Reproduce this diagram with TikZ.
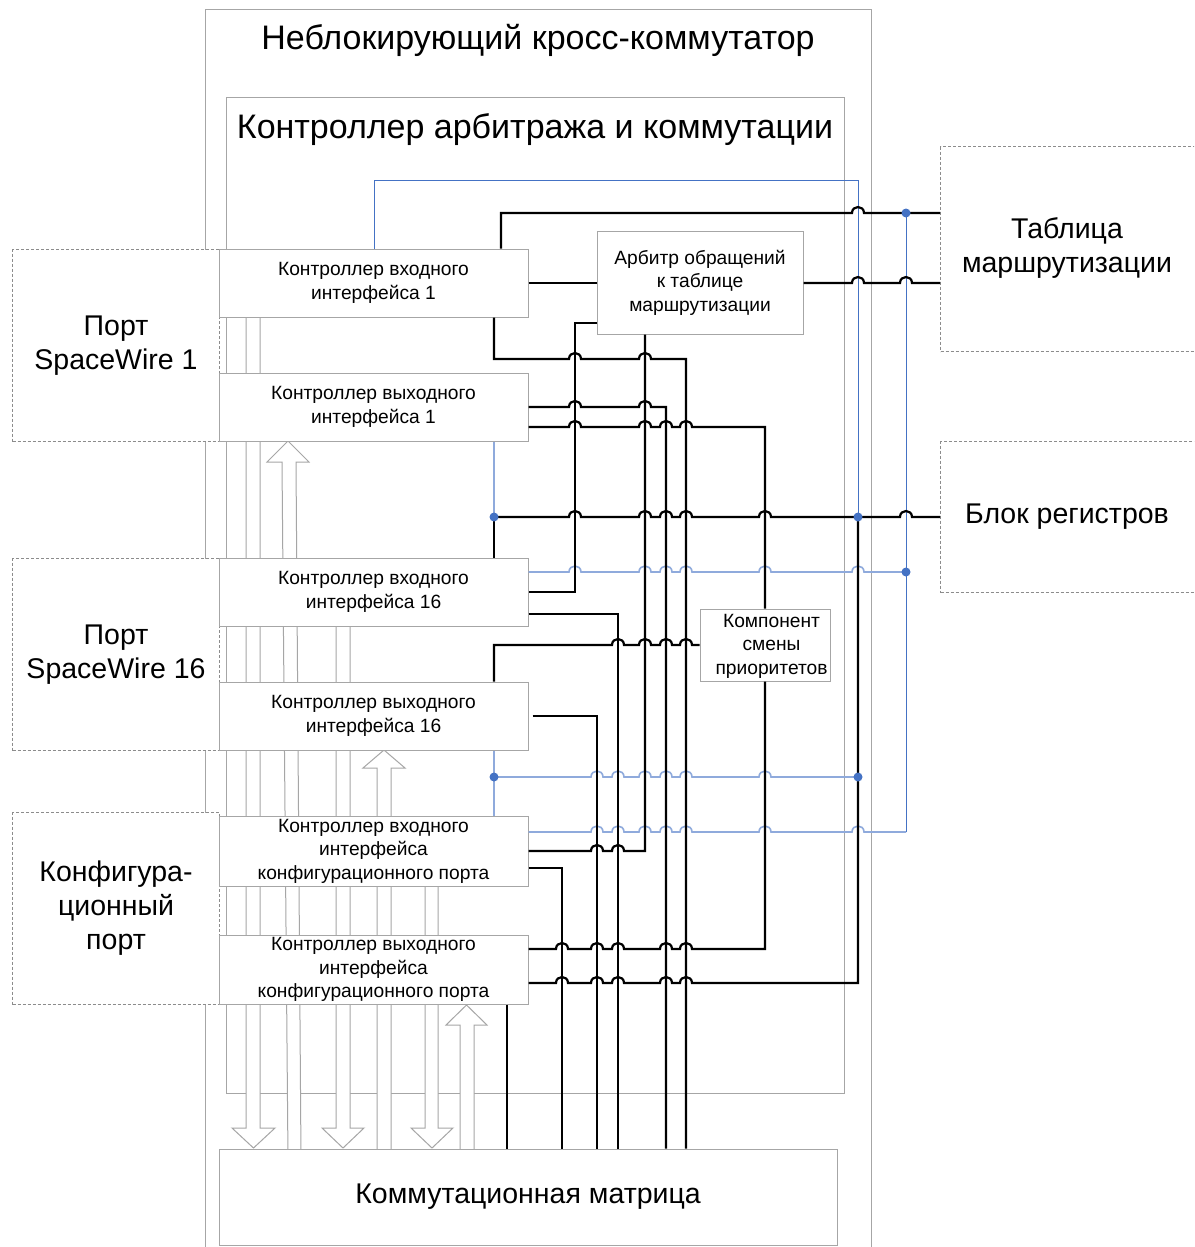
\documentclass[tikz,border=0pt]{standalone}
\usepackage{fontspec}
\setmainfont{Liberation Sans}
\definecolor{boxgray}{RGB}{166,166,166}
\definecolor{dashgray}{RGB}{140,140,140}
\definecolor{bluedark}{RGB}{68,114,196}
\definecolor{bluelight}{RGB}{143,170,220}
\newcommand\hopover[2]{\foreach \jx in {#2} { -- ({\jx-6},#1) .. controls ({\jx-6},{#1-8}) and ({\jx+6},{#1-8}) .. ({\jx+6},#1) }}
\begin{document}
\begin{tikzpicture}[x=1pt,y=-1pt,
  box/.style={draw=boxgray,fill=white,line width=1pt,inner sep=0pt,align=center},
  ctrl/.style={box,minimum width=309pt,minimum height=68pt,font=\fontsize{19.2}{23.5}\selectfont},
  dbox/.style={draw=dashgray,dash pattern=on 3pt off 2pt,fill=white,line width=1pt,inner sep=0pt,align=center},
  big/.style={font=\fontsize{28.5}{34}\selectfont,align=center,inner sep=0pt},
  small/.style={font=\fontsize{19.2}{23.5}\selectfont,align=center,inner sep=0pt},
  blk/.style={line width=2.2pt,black},
  bline/.style={bluedark,line width=1pt},
  lline/.style={bluelight,line width=1.6pt},
  harrow/.style={draw=boxgray,fill=white,line width=1pt},
  jdot/.style={circle,fill=bluedark,inner sep=0pt,minimum size=9pt}]
\useasboundingbox (0,0) rectangle (1194,1247);
\clip (0,0) rectangle (1194,1247);
\fill[white] (0,0) rectangle (1194,1247);
% outer and inner frames
\node[box,minimum width=666pt,minimum height=1300pt,anchor=north west] (outer) at (205,9) {};
\node[font=\fontsize{34}{39}\selectfont,inner sep=0pt] (outerlbl) at (538,40) {Неблокирующий кросс-коммутатор};
\node[box,minimum width=618pt,minimum height=996pt,anchor=north west] (inner) at (226,97) {};
\node[font=\fontsize{34}{39}\selectfont,inner sep=0pt] (innerlbl) at (535,130) {Контроллер арбитража и коммутации};
% ports
\node[dbox,big,minimum width=207pt,minimum height=192pt,anchor=north west] (p1) at (12,249) {Порт\\SpaceWire 1};
\node[dbox,big,minimum width=207pt,minimum height=192pt,anchor=north west] (p16) at (12,558) {Порт\\SpaceWire 16};
\node[dbox,big,minimum width=207pt,minimum height=192pt,anchor=north west] (pc) at (12,812) {Конфигура-\\ционный\\порт};
% hollow arrows (data paths)
\draw[harrow] (246,300) -- (246,1128) -- (232,1128) -- (253.5,1148) -- (275,1128) -- (260,1128) -- (260,300) -- cycle;
\draw[harrow] (288,1160) -- (282,462) -- (267,462) -- (288,441) -- (309,462) -- (296,462) -- (301,1160) -- cycle;
\draw[harrow] (336,610) -- (336,1128) -- (322,1128) -- (343,1148) -- (364,1128) -- (350,1128) -- (350,610) -- cycle;
\draw[harrow] (377,1160) -- (377,768) -- (363,768) -- (384,750) -- (405,768) -- (391,768) -- (391,1160) -- cycle;
\draw[harrow] (425,870) -- (425,1128) -- (411,1128) -- (432,1148) -- (453,1128) -- (438,1128) -- (438,870) -- cycle;
\draw[harrow] (460,1160) -- (460,1025) -- (446,1025) -- (466.5,1005) -- (487,1025) -- (474,1025) -- (474,1160) -- cycle;
% controllers
\node[ctrl] (in1) at (373.5,283) {Контроллер входного\\интерфейса 1};
\node[ctrl] (out1) at (373.5,407) {Контроллер выходного\\интерфейса 1};
\node[ctrl] (in16) at (373.5,592) {Контроллер входного\\интерфейса 16};
\node[ctrl] (out16) at (373.5,716) {Контроллер выходного\\интерфейса 16};
\node[ctrl,minimum height=70pt] (inc) at (373.5,851) {Контроллер входного\\интерфейса\\конфигурационного порта};
\node[ctrl,minimum height=69pt] (outc) at (373.5,969.5) {Контроллер выходного\\интерфейса\\конфигурационного порта};
% other blocks
\node[box,small,minimum width=206pt,minimum height=103pt] (arb) at (700,282.5) {Арбитр обращений\\к таблице\\маршрутизации};
\node[box,minimum width=130pt,minimum height=72pt] (comp) at (765,645) {};
\node[small] (complbl) at (771.5,646) {Компонент\\смены\\приоритетов};
\node[dbox,minimum width=300pt,minimum height=205pt,anchor=north west] (tab) at (940,146) {};
\node[big] (tablbl) at (1067,248) {Таблица\\маршрутизации};
\node[dbox,minimum width=300pt,minimum height=151pt,anchor=north west] (reg) at (940,441) {};
\node[big] (reglbl) at (1067,517) {Блок регистров};
\node[box,big,minimum width=618pt,minimum height=96pt] (mat) at (528,1197) {Коммутационная матрица};
% blue lines
\draw[bline] (374,0 |- in1.north) -- (374,180) -- (858,180) -- (858,517);
\draw[bline] (906,213) -- (906,832);
\draw[lline] (494,0 |- out1.south) -- (494,517);
\draw[lline] (in16.east |- 0,572) \hopover{572}{575,645,666,686,765,858} -- (906,572);
\draw[lline] (494,0 |- out16.south) -- (494,0 |- inc.north);
\draw[lline] (494,777) \hopover{777}{597,618,645,666,686,765} -- (858,777);
\draw[lline] (inc.east |- 0,832) \hopover{832}{597,618,645,666,686,765,858} -- (906,832);
% black lines
\draw[blk] (501,0 |- in1.north) -- (501,213) \hopover{213}{858} -- (tab.west |- 0,213);
\draw[blk] (in1.east |- 0,283) -- (arb.west |- 0,283);
\draw[blk] (arb.east |- 0,283) \hopover{283}{858,906} -- (tab.west |- 0,283);
\draw[blk] (arb.west |- 0,323) -- (575,323) -- (575,592) -- (in16.east |- 0,592);
\draw[blk] (inc.east |- 0,851) \hopover{851}{597,618} -- (645,851) -- (645,0 |- arb.south);
\draw[blk] (494,0 |- in1.south) -- (494,359) \hopover{359}{575,645} -- (686,359) -- (686,0 |- mat.north);
\draw[blk] (out1.east |- 0,407) \hopover{407}{575,645} -- (666,407) -- (666,0 |- mat.north);
\draw[blk] (out1.east |- 0,427) \hopover{427}{575,645,666,686} -- (765,427) -- (765,0 |- comp.north);
\draw[blk] (494,517) -- (494,0 |- in16.north);
\draw[blk] (494,517) \hopover{517}{575,645,666,686,765} -- (858,517) \hopover{517}{906} -- (reg.west |- 0,517);
\draw[blk] (outc.east |- 0,983) \hopover{983}{562,597,618,666,686} -- (858,983) -- (858,517);
\draw[blk] (in16.east |- 0,614) -- (618,614) -- (618,0 |- mat.north);
\draw[blk] (494,0 |- out16.north) -- (494,645) \hopover{645}{618,645,666,686} -- (comp.west |- 0,645);
\draw[blk] ([xshift=4pt]out16.east) -- (597,716) -- (597,0 |- mat.north);
\draw[blk] (inc.east |- 0,868) -- (562,868) -- (562,0 |- mat.north);
\draw[blk] (outc.east |- 0,949) \hopover{949}{562,597,618,666,686} -- (765,949) -- (765,0 |- comp.south);
\draw[blk] (507,0 |- outc.south) -- (507,0 |- mat.north);
% junction dots
\node[jdot] (d1) at (906,213) {};
\node[jdot] (d2) at (494,517) {};
\node[jdot] (d3) at (858,517) {};
\node[jdot] (d4) at (906,572) {};
\node[jdot] (d5) at (494,777) {};
\node[jdot] (d6) at (858,777) {};
\end{tikzpicture}
\end{document}
